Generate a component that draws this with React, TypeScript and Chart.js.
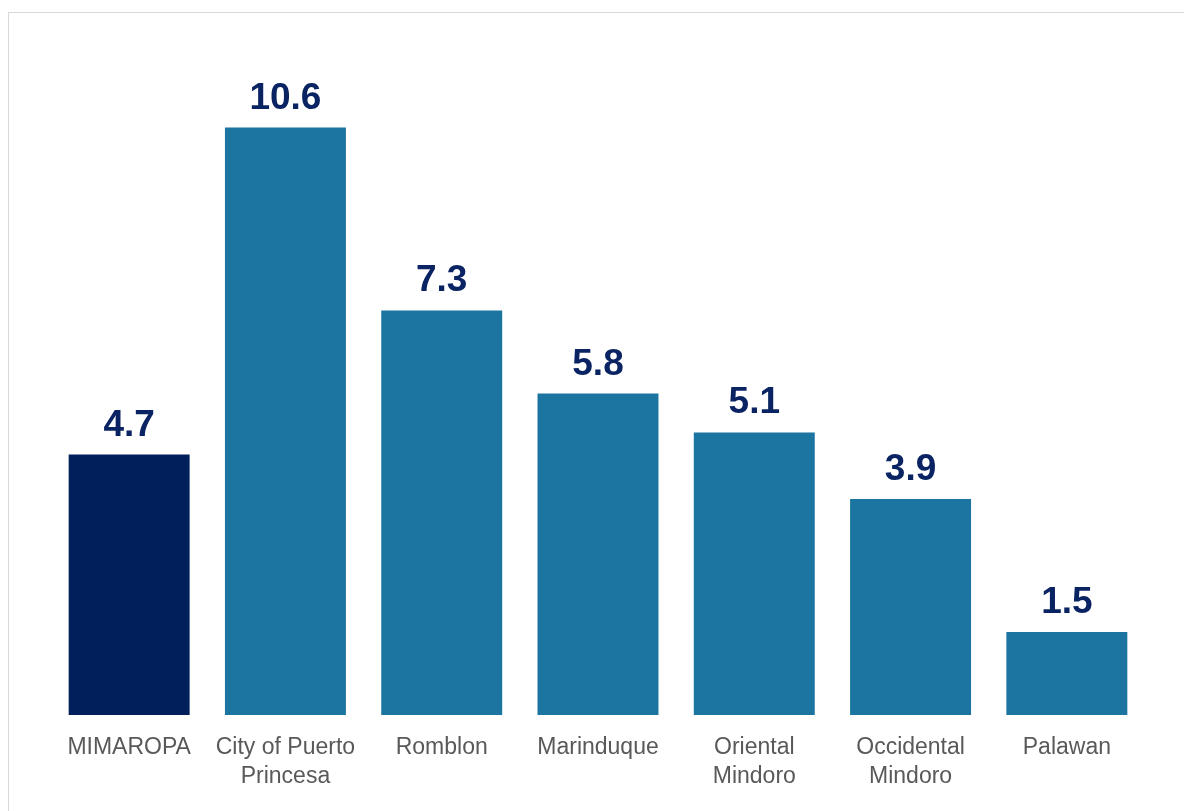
import React, { useEffect, useRef } from "react";
import { Chart, registerables } from "chart.js";

Chart.register(...registerables);

const categories: (string | string[])[] = [
  "MIMAROPA",
  ["City of Puerto", "Princesa"],
  "Romblon",
  "Marinduque",
  ["Oriental", "Mindoro"],
  ["Occidental", "Mindoro"],
  "Palawan",
];
const values: number[] = [4.7, 10.6, 7.3, 5.8, 5.1, 3.9, 1.5];
const barColors: string[] = ["#001F5B", "#1B75A0", "#1B75A0", "#1B75A0", "#1B75A0", "#1B75A0", "#1B75A0"];

const FONT = "'Liberation Sans', Arial, Helvetica, sans-serif";

const valueLabelPlugin = {
  id: "valueLabels",
  afterDatasetsDraw(chart: any) {
    const ctx = chart.ctx;
    const meta = chart.getDatasetMeta(0);
    ctx.save();
    ctx.font = `bold 37px ${FONT}`;
    ctx.fillStyle = "#0A2463";
    ctx.textAlign = "center";
    ctx.textBaseline = "alphabetic";
    meta.data.forEach((bar: any, i: number) => {
      ctx.fillText(values[i].toFixed(1), bar.x, bar.y - 19);
    });
    ctx.restore();
  },
};

export default function App() {
  const ref = useRef<HTMLCanvasElement>(null);
  useEffect(() => {
    if (!ref.current) return;
    const chart = new Chart(ref.current, {
      type: "bar",
      data: {
        labels: categories,
        datasets: [
          {
            data: values,
            backgroundColor: barColors,
            borderWidth: 0,
            barPercentage: 0.774,
            categoryPercentage: 1,
          },
        ],
      },
      options: {
        responsive: false,
        animation: false,
        devicePixelRatio: 1,
        layout: { padding: { left: 42, right: 47, top: 37, bottom: 0 } },
        plugins: {
          legend: { display: false },
          tooltip: { enabled: false },
        },
        scales: {
          x: {
            grid: { display: false, drawTicks: false },
            border: { display: false },
            ticks: {
              color: "#595959",
              font: { family: FONT, size: 23, lineHeight: 1.26 },
              maxRotation: 0,
              minRotation: 0,
              autoSkip: false,
              padding: 18,
            },
            afterFit: (scale: any) => {
              scale.height = 96;
            },
          },
          y: {
            display: false,
            min: 0,
            max: 12,
          },
        },
      },
      plugins: [valueLabelPlugin],
    });
    return () => chart.destroy();
  }, []);

  return (
    <div
      style={{
        marginTop: 4,
        width: 1184,
        height: 799,
        boxSizing: "border-box",
        borderLeft: "1px solid #d9d9d9",
        borderTop: "1px solid #d9d9d9",
        background: "#ffffff",
        overflow: "hidden",
      }}
    >
      <canvas ref={ref} width={1183} height={798} style={{ display: "block" }} />
    </div>
  );
}
